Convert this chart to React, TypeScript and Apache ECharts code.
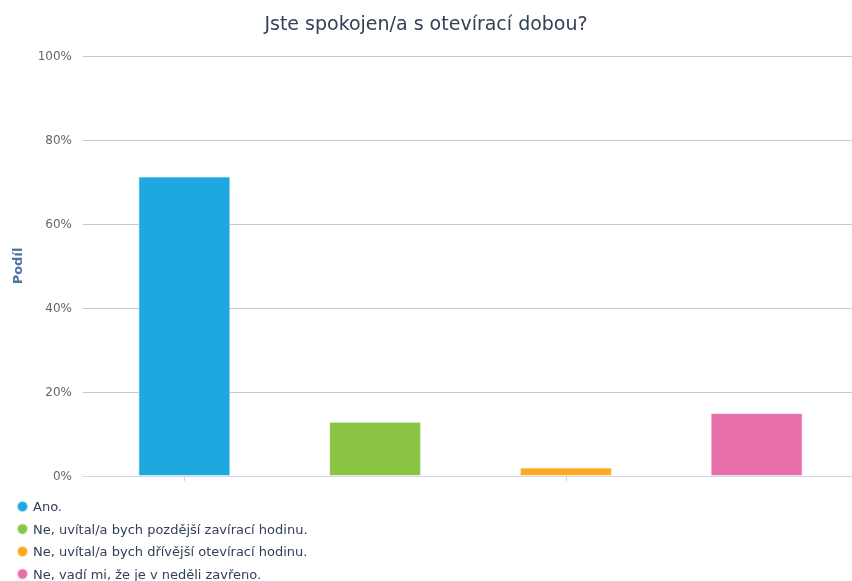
import React, { useEffect, useRef } from "react";
import * as echarts from "echarts";

const titleText = "Jste spokojen/a s otevírací dobou?";
const yAxisName = "Podíl";
const categories = [
  "Ano.",
  "Ne, uvítal/a bych pozdější zavírací hodinu.",
  "Ne, uvítal/a bych dřívější otevírací hodinu.",
  "Ne, vadí mi, že je v neděli zavřeno.",
];
const values = [71.3, 12.9, 2.0, 15.0];
const colors = ["#1EA8E0", "#8BC546", "#FDA923", "#E76EAA"];
const yTicks = { min: 0, max: 100, interval: 20 };

const FONT = "DejaVu Sans";

export default function App() {
  const ref = useRef<HTMLDivElement>(null);
  useEffect(() => {
    if (!ref.current) return;
    const chart = echarts.init(ref.current, undefined, { renderer: "svg" });
    const series = categories.map((name, i) => ({
      name,
      type: "bar",
      xAxisIndex: 1,
      yAxisIndex: 1,
      barWidth: 92,
      barGap: "-100%",
      itemStyle: { color: colors[i], borderColor: "rgba(255,255,255,0.6)", borderWidth: 1 },
      data: categories.map((_, j) => (j === i ? values[i] : null)),
    }));
    chart.setOption({
      animation: false,
      textStyle: { fontFamily: FONT },
      title: {
        text: titleText,
        left: "center",
        top: 8,
        padding: [5, 5, 5, 31],
        textStyle: { fontFamily: FONT, fontSize: 19, fontWeight: "normal", color: "#334056" },
      },
      legend: {
        orient: "vertical",
        left: 16,
        top: 500,
        height: 120,
        padding: 0,
        icon: "circle",
        itemWidth: 11,
        itemHeight: 11,
        itemGap: 9.5,
        textStyle: { fontFamily: FONT, fontSize: 13, color: "#334056" },
        data: categories,
      },
      grid: [
        { left: 83, right: 0, top: 56, bottom: 105 },
        { left: 89, right: -2, top: 56, bottom: 105 },
      ],
      xAxis: [
        {
          type: "category",
          gridIndex: 0,
          data: categories,
          axisLine: { show: true, lineStyle: { color: "#ccd6eb" } },
          axisTick: { show: false },
          axisLabel: { show: false },
        },
        {
          type: "category",
          gridIndex: 1,
          data: categories,
          axisLine: { show: false },
          axisTick: { show: true, alignWithLabel: true, length: 5, lineStyle: { color: "#ccd6eb" } },
          axisLabel: { show: false },
        },
      ],
      yAxis: [
        {
          type: "value",
          gridIndex: 0,
          min: yTicks.min,
          max: yTicks.max,
          interval: yTicks.interval,
          name: yAxisName,
          nameLocation: "middle",
          nameGap: 59,
          nameTextStyle: { fontFamily: FONT, fontSize: 13, fontWeight: "bold", color: "#4d759e" },
          axisLine: { show: false },
          axisTick: { show: false },
          axisLabel: { formatter: "{value}%", fontSize: 12, color: "#666666", margin: 11, fontFamily: FONT },
          splitLine: { lineStyle: { color: "#c8c8c8" } },
        },
        {
          type: "value",
          gridIndex: 1,
          min: yTicks.min,
          max: yTicks.max,
          interval: yTicks.interval,
          show: false,
          splitLine: { show: false },
        },
      ],
      series,
    });
    return () => chart.dispose();
  }, []);
  return (
    <div
      ref={ref}
      style={{ position: "fixed", left: 0, top: 0, width: 852, height: 581, overflow: "hidden" }}
    />
  );
}
